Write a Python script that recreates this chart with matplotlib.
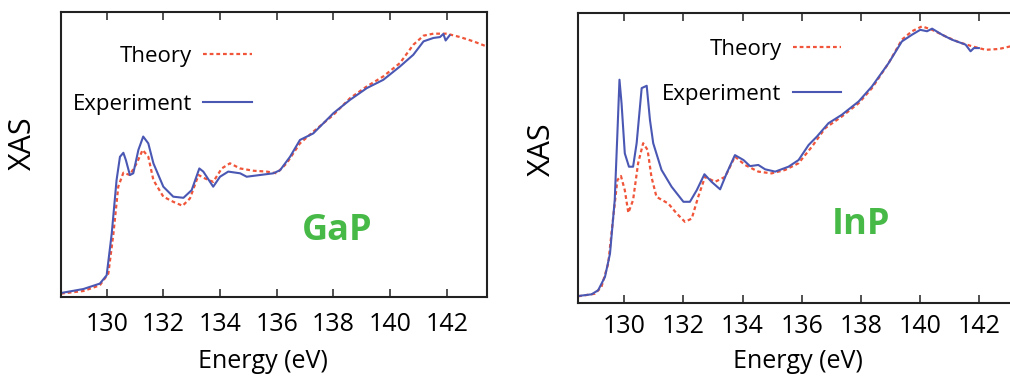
import numpy as np
import matplotlib.pyplot as plt

plt.rcParams['font.family'] = ['Open Sans', 'DejaVu Sans']

# GaP (left panel) -- energy in eV, XAS in arbitrary units (0-100 of axis height)
gap_exp_e = [128.39, 129.18, 129.76, 130.0, 130.18, 130.35, 130.47, 130.59, 130.68, 130.82,
             130.94, 131.12, 131.29, 131.47, 131.65, 132.0, 132.35, 132.71, 133.0, 133.27,
             133.41, 133.76, 134.0, 134.29, 134.71, 134.94, 135.41, 135.88, 136.12, 136.47,
             136.82, 137.29, 137.65, 138.0, 138.59, 139.18, 139.76, 140.35, 140.82, 141.18,
             141.53, 141.76, 141.88, 141.96, 142.1]
gap_exp_y = [1.4, 2.8, 4.7, 7.6, 22.3, 41.0, 49.2, 50.6, 48.0, 42.8,
             43.4, 51.6, 56.3, 53.9, 46.9, 38.7, 35.2, 34.8, 37.5, 45.1,
             44.0, 38.7, 42.2, 44.0, 43.4, 42.2, 42.8, 43.4, 44.5, 49.2,
             55.1, 57.4, 61.0, 64.5, 69.2, 73.3, 76.2, 80.9, 85.0, 89.7,
             90.9, 91.2, 92.3, 90.0, 91.8]
gap_th_e = [128.39, 129.18, 129.76, 130.06, 130.24, 130.41, 130.59, 130.82, 131.06, 131.27,
            131.47, 131.65, 132.0, 132.35, 132.68, 132.94, 133.24, 133.47, 133.76, 134.06,
            134.35, 134.71, 135.18, 135.65, 136.0, 136.35, 136.82, 137.29, 138.0, 138.59,
            139.18, 139.76, 140.35, 140.82, 141.18, 141.53, 142.0, 142.47, 142.94, 143.41]
gap_th_y = [1.2, 2.1, 4.1, 8.2, 22.3, 38.7, 43.6, 42.8, 46.9, 51.6,
            49.2, 41.0, 35.2, 33.4, 32.0, 34.6, 42.8, 41.6, 40.4, 45.1,
            46.9, 45.1, 44.3, 44.0, 43.4, 46.9, 53.9, 58.0, 63.9, 69.8,
            73.9, 77.4, 82.1, 88.5, 91.7, 92.4, 92.4, 91.2, 89.7, 87.9]

# InP (right panel)
inp_exp_e = [128.44, 128.9, 129.12, 129.35, 129.52, 129.68, 129.77, 129.84, 129.91, 130.02,
             130.16, 130.3, 130.42, 130.59, 130.76, 130.87, 130.98, 131.26, 131.6, 132.0,
             132.22, 132.45, 132.71, 132.95, 133.24, 133.46, 133.74, 134.03, 134.25, 134.53,
             134.76, 135.1, 135.55, 135.89, 136.23, 136.51, 136.9, 137.35, 137.92, 138.37,
             138.93, 139.38, 139.72, 140.0, 140.23, 140.4, 140.74, 141.07, 141.53, 141.7,
             141.81, 141.98]
inp_exp_y = [2.4, 3.0, 4.4, 9.0, 17.0, 35.5, 58.5, 77.0, 68.9, 51.6,
             47.0, 47.0, 55.1, 74.1, 74.9, 63.1, 55.1, 45.9, 40.1, 34.9,
             34.9, 38.9, 44.4, 41.8, 39.2, 44.7, 51.0, 49.3, 47.2, 47.6,
             46.1, 45.3, 47.0, 49.3, 54.5, 57.4, 62.0, 64.9, 69.5, 74.7,
             82.7, 90.2, 92.5, 94.2, 93.7, 94.6, 92.5, 90.8, 89.1, 86.8,
             87.9, 87.9]
inp_th_e = [128.44, 129.01, 129.23, 129.46, 129.63, 129.77, 129.89, 130.02, 130.14, 130.3,
            130.47, 130.64, 130.79, 130.92, 131.09, 131.49, 131.77, 132.05, 132.28, 132.5,
            132.73, 133.07, 133.41, 133.74, 134.08, 134.53, 134.98, 135.44, 135.89, 136.34,
            136.79, 137.35, 137.92, 138.37, 138.93, 139.38, 139.72, 140.06, 140.4, 140.86,
            141.31, 141.76, 142.21, 142.66, 143.05]
inp_th_y = [2.3, 3.2, 5.5, 13.6, 29.7, 42.4, 43.8, 38.9, 31.1, 35.5,
            48.2, 55.1, 52.8, 43.5, 36.6, 34.3, 30.9, 28.0, 29.1, 36.6,
            43.5, 41.8, 43.5, 50.5, 47.6, 45.3, 44.7, 45.9, 48.2, 53.9,
            60.3, 64.3, 68.9, 74.1, 82.7, 90.8, 93.7, 95.4, 94.2, 91.9,
            89.9, 88.5, 87.3, 87.6, 88.5]

xticks = [130, 132, 134, 136, 138, 140, 142]

blue = '#4a58b4'
red = '#f0553a'
green = '#46b946'

fig = plt.figure(figsize=(10.1, 3.81), dpi=100)
ax1 = fig.add_axes([0.0604, 0.2205, 0.4218, 0.748])
ax2 = fig.add_axes([0.5723, 0.2047, 0.4297, 0.7612])

panels = [
    (ax1, gap_th_e, gap_th_y, gap_exp_e, gap_exp_y, 'GaP', (128.39, 143.42), 12,
     (0.648, 0.23), (-0.089, 0.54), (0.473, -0.228), (0.448, 0.845), (0.448, 0.677)),
    (ax2, inp_th_e, inp_th_y, inp_exp_e, inp_exp_y, 'InP', (128.44, 143.1), 9,
     (0.653, 0.27), (-0.083, 0.53), (0.507, -0.203), (0.607, 0.875), (0.607, 0.72)),
]

for (ax, te, ty, ee, ey, name, xlim, pad, npos, ylpos, xlpos, leg1, leg2) in panels:
    lt, = ax.plot(te, ty, color=red, lw=1.6, linestyle=(0, (1.7, 1.3)), label='Theory')
    le, = ax.plot(ee, ey, color=blue, lw=1.5, label='Experiment')
    ax.set_xlim(*xlim)
    ax.set_ylim(0, 100)
    ax.set_xticks(xticks)
    ax.set_yticks([])
    ax.tick_params(axis='x', direction='in', top=True, length=6, width=1.1,
                   labelsize=18, pad=pad - 1, color='#222222')
    for sp in ax.spines.values():
        sp.set_linewidth(1.5)
        sp.set_color('#222222')
    ax.set_ylabel('XAS', fontsize=22, va='center', ha='center')
    ax.yaxis.set_label_coords(*ylpos)
    ax.set_xlabel('Energy (eV)', fontsize=18, va='center', ha='center')
    ax.xaxis.set_label_coords(*xlpos)
    ax.text(npos[0], npos[1], name, transform=ax.transAxes, ha='center', va='center',
            fontsize=26, fontweight='bold', color=green)
    l1 = ax.legend(handles=[lt], loc='center right', bbox_to_anchor=leg1, frameon=False,
                   markerfirst=False, fontsize=16, handlelength=2.2, handletextpad=0.5,
                   borderpad=0, borderaxespad=0)
    ax.add_artist(l1)
    ax.legend(handles=[le], loc='center right', bbox_to_anchor=leg2, frameon=False,
              markerfirst=False, fontsize=16, handlelength=2.2, handletextpad=0.5,
              borderpad=0, borderaxespad=0)

ax2.spines['right'].set_visible(False)

fig.savefig('out.png', dpi=100)
